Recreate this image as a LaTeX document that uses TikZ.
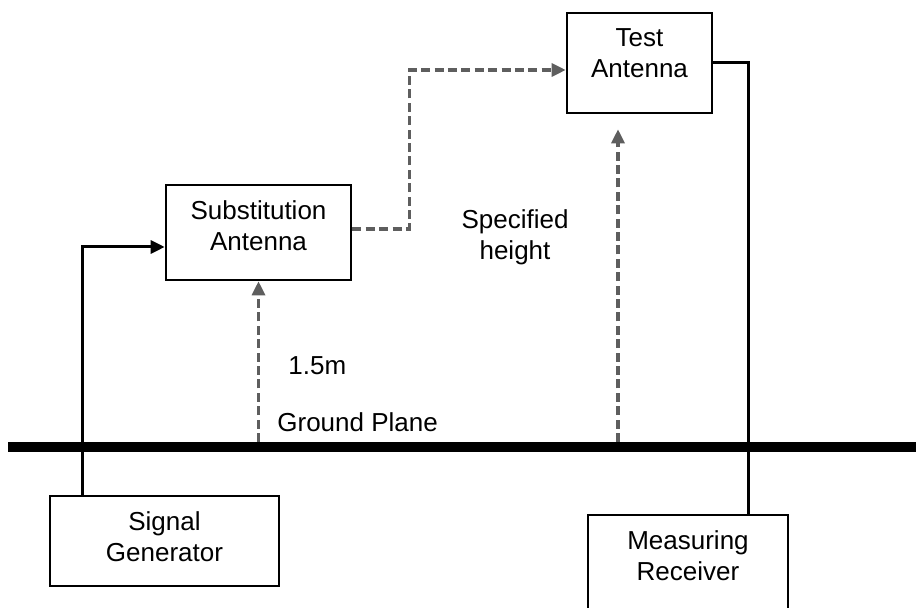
\documentclass[tikz,border=0pt]{standalone}
\usepackage{fontspec}
\setmainfont{Liberation Sans}
\usepackage{tikz}
\usetikzlibrary{arrows.meta,positioning,calc}
\definecolor{colorDash}{HTML}{5E5E5E}

\begin{document}
\begin{tikzpicture}[
    x=0.5pt, y=-0.5pt,
    box/.style={rectangle, draw, line width=1.3pt, inner sep=0pt},
    boxtext/.style={anchor=north, inner sep=0pt, align=center, font=\fontsize{13}{15.5}\selectfont},
    lbl/.style={inner sep=0pt, align=center, font=\fontsize{13}{15.5}\selectfont},
    wire/.style={line width=1.5pt},
    arrow/.style={wire, -{Triangle[length=7pt, width=6.5pt]}},
    dasharrow/.style={line width=1.6pt, draw=colorDash, dash pattern=on 4.5pt off 2.2pt,
        -{Triangle[length=7pt, width=6.5pt, fill=colorDash]}},
    ground/.style={line width=5pt}
]
    \useasboundingbox (0,0) rectangle (916,608);
    \clip (0,0) rectangle (916,608);

    % Nodes
    \node[box, minimum width=92.5pt, minimum height=47.5pt] (sub) at (258.5,232.5) {};
    \node[boxtext] at ([yshift=-8.5pt]sub.north) {Substitution\\Antenna};

    \node[box, minimum width=72.5pt, minimum height=50pt] (test) at (639.5,63) {};
    \node[boxtext] at ([yshift=-8.5pt]test.north) {Test\\Antenna};

    \node[box, minimum width=114.5pt, minimum height=45pt] (siggen) at (164.5,541) {};
    \node[boxtext] at ([yshift=-8.5pt]siggen.north) {Signal\\Generator};

    \node[box, minimum width=100pt, minimum height=50pt] (meas) at (688,565) {};
    \node[boxtext] at ([yshift=-8.5pt]meas.north) {Measuring\\Receiver};

    \node[lbl, anchor=north] (spec) at (515,209) {Specified\\height};
    \node[lbl, anchor=base west] (hgt) at (288,375) {1.5m};
    \node[lbl, anchor=base west] (gnd) at (277,432) {Ground Plane};

    % Ground plane
    \coordinate (gl) at (8,447);
    \coordinate (gr) at (930,447);
    \coordinate (gtop) at (0,442);
    \draw[ground] (gl) -- (gr);

    % Edges
    \draw[arrow] ([xshift=-41.25pt]siggen.north) |- ([yshift=-7.25pt]sub.west);
    \draw[wire] (test.east) -| ([xshift=30pt]meas.north);
    \draw[dasharrow] ([yshift=1.75pt]sub.east) -- ++(28.5pt,0) |- ([yshift=-3.5pt]test.west);

    % Heights
    \coordinate (hpt) at ([xshift=-10.75pt,yshift=-7.5pt]test.south);
    \draw[dasharrow] (sub.south |- gtop) -- (sub.south);
    \draw[dasharrow] (hpt |- gtop) -- (hpt);

\end{tikzpicture}
\end{document}
